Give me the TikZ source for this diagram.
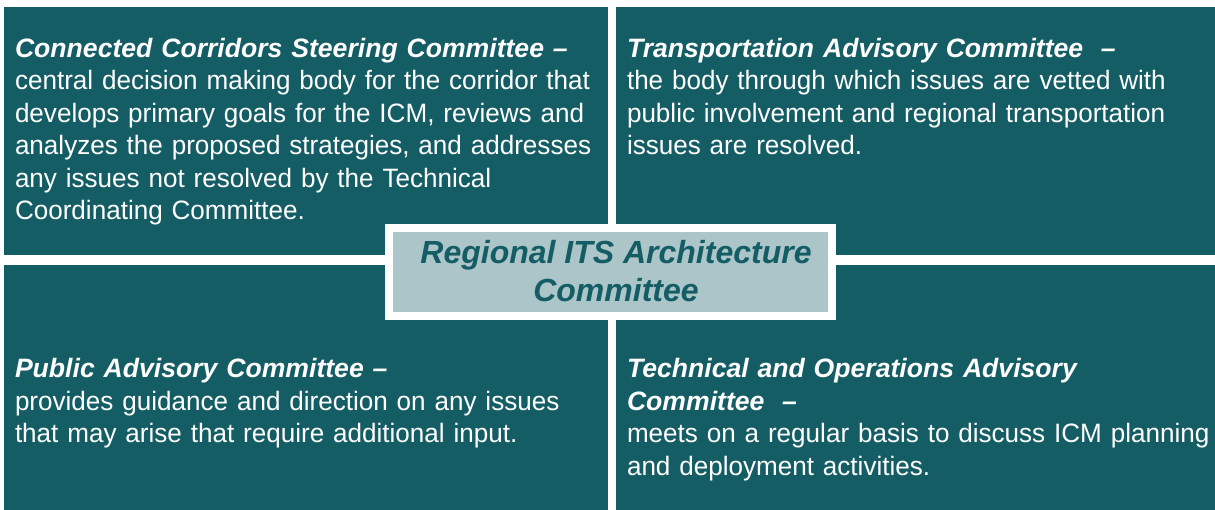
\documentclass[tikz,border=0pt]{standalone}
\usepackage{fontspec}
\setmainfont[FakeStretch=0.98]{Liberation Sans}
\newfontfamily\ttlfont{Liberation Sans}
\definecolor{teal}{RGB}{20,93,101}
\definecolor{lightteal}{RGB}{172,197,201}
\newcommand{\ttl}[1]{{\ttlfont\bfseries\itshape #1}}
\begin{document}
\begin{tikzpicture}[x=1pt,y=-1pt,
  panel/.style={draw=none,fill=teal,anchor=north west,inner sep=0pt,outer sep=0pt},
  desc/.style={anchor=north west,inner sep=0pt,outer sep=0pt,text=white,align=left,text width=595pt,
    font=\fontsize{26.6}{32.4}\selectfont}
]
\useasboundingbox (0,0) rectangle (1215,510);
\fill[white] (0,0) rectangle (1215,510);
\node[panel,minimum width=604pt,minimum height=248pt] (tl) at (4,7) {};
\node[panel,minimum width=599pt,minimum height=248pt] (tr) at (616,7) {};
\node[panel,minimum width=604pt,minimum height=245pt] (bl) at (4,265) {};
\node[panel,minimum width=599pt,minimum height=245pt] (br) at (616,265) {};

\node[desc] (tltext) at (15,34.8) {\strut\ttl{Connected Corridors Steering Committee –}\\
central decision making body for the corridor that\\
develops primary goals for the ICM, reviews and\\
analyzes the proposed strategies, and addresses\\
any issues not resolved by the Technical\\
Coordinating Committee.};

\node[desc] (trtext) at (627,34.8) {\strut\ttl{Transportation Advisory Committee\ \ –}\\
the body through which issues are vetted with\\
public involvement and regional transportation\\
issues are resolved.};

\node[desc] (bltext) at (15,355.3) {\strut\ttl{Public Advisory Committee –}\\
provides guidance and direction on any issues\\
that may arise that require additional input.};

\node[desc] (brtext) at (627,355.3) {\strut\ttl{Technical and Operations Advisory}\\
\ttl{Committee\ \ –}\\
meets on a regular basis to discuss ICM planning\\
and deployment activities.};

\node[draw=white,line width=7.5pt,fill=lightteal,minimum width=443pt,minimum height=88pt,inner sep=0pt,outer sep=0pt,anchor=north west] (center) at (389,228) {};
\node[anchor=north,inner sep=0pt,text=teal,align=center,font=\fontsize{32}{38.4}\selectfont\ttlfont\bfseries\itshape] (centertext) at (616,236.4) {\strut Regional ITS Architecture\\ Committee};
\end{tikzpicture}
\end{document}
